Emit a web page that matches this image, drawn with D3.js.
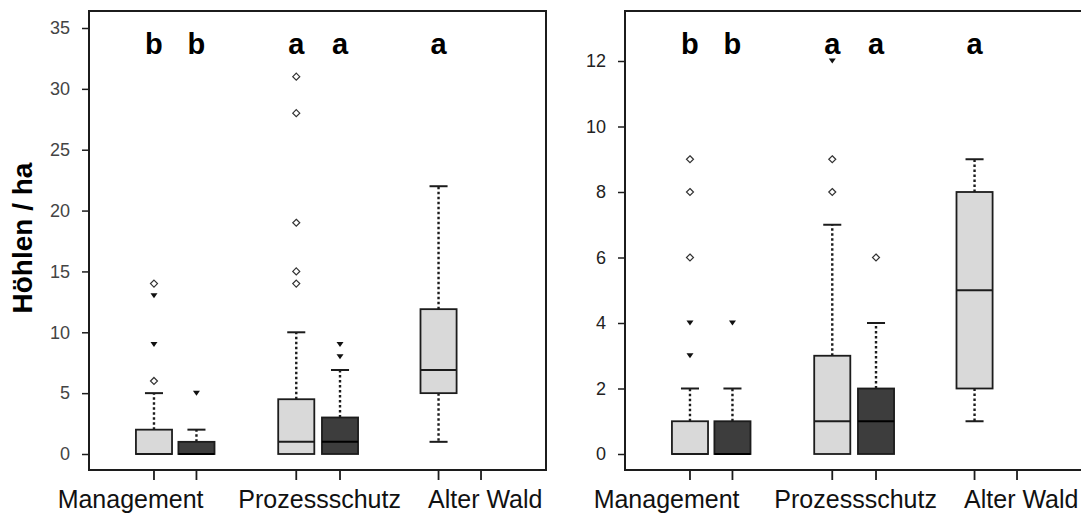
<!DOCTYPE html>
<html>
<head>
<meta charset="utf-8">
<script src="https://cdn.jsdelivr.net/npm/d3@7"></script>
<style>
body { margin: 0; background: #fff; }
text { font-family: Arial, "Liberation Sans", sans-serif; }
</style>
</head>
<body>
<div id="chart"></div>
<script>
// x slots (like R's "at"), 6 of them, the last one stays empty
const slots = [1, 2, 4.35, 5.38, 7.7, 8.7];
const categories = ["Management", "Prozessschutz", "Alter Wald"];
const categoryAt = [0.45, 4.9, 8.8];

// boxes: which slot, light (0) or dark (1) series, significance letter
const boxSlot = [0, 1, 2, 3, 4];
const boxSeries = [0, 1, 0, 1, 0];
const letters = ["b", "b", "a", "a", "a"];

// left panel
const leftTicks = [0, 5, 10, 15, 20, 25, 30, 35];
const leftLow = [0, 0, 0, 0, 1];
const leftQ1 = [0, 0, 0, 0, 5];
const leftMedian = [0, 0, 1, 1, 6.9];
const leftQ3 = [2, 1, 4.5, 3, 11.9];
const leftHigh = [5, 2, 10, 6.9, 22];
// outliers as [value, number of plots]
const leftOutliers = [
    [[14, 1], [13, 2], [9, 2], [6, 1]],
    [[5, 2]],
    [[31, 1], [28, 1], [19, 1], [15, 1], [14, 1]],
    [[9, 2], [8, 2]],
    []
];

// right panel
const rightTicks = [0, 2, 4, 6, 8, 10, 12];
const rightLow = [0, 0, 0, 0, 1];
const rightQ1 = [0, 0, 0, 0, 2];
const rightMedian = [0, 0, 1, 1, 5];
const rightQ3 = [1, 1, 3, 2, 8];
const rightHigh = [2, 2, 7, 4, 9];
const rightOutliers = [
    [[9, 1], [8, 1], [6, 1], [4, 2], [3, 2]],
    [[4, 2]],
    [[12, 2], [9, 1], [8, 1]],
    [[6, 1]],
    []
];

const fills = ["#d9d9d9", "#3d3d3d"];
const ink = "#1c1c1c";

let svg = d3.select("#chart").append("svg")
    .attr("width", 1081)
    .attr("height", 516)
    .style("background", "#fff");

let frameTop = 11, frameBottom = 470;

function drawPanel(x0, x1, yMax, yPix, ticks, low, q1, med, q3, high, outliers, tickColor) {
    let x = d3.scaleLinear().domain([-0.53, 10.23]).range([x0, x1]);
    let y = d3.scaleLinear().domain([0, yMax]).range([454, yPix]);
    let boxW = x(0.85) - x(0);
    let g = svg.append("g");

    // y axis
    let ax = g.append("g")
        .attr("transform", "translate(" + x0 + ",0)")
        .call(d3.axisLeft(y).tickValues(ticks).tickSize(7).tickPadding(12).tickSizeOuter(0));
    ax.select(".domain").remove();
    ax.selectAll(".tick line").attr("stroke", ink).attr("stroke-width", 1.5);
    ax.selectAll(".tick text")
        .attr("font-size", 18)
        .attr("fill", tickColor)
        .style("font-family", "Arial, 'Liberation Sans', sans-serif");

    // x ticks below the frame
    g.selectAll(".xtick").data(slots).enter().append("line")
        .attr("x1", d => x(d)).attr("x2", d => x(d))
        .attr("y1", frameBottom).attr("y2", frameBottom + 10)
        .attr("stroke", ink).attr("stroke-width", 1.8);

    // category labels
    g.selectAll(".cat").data(categories).enter().append("text")
        .attr("x", (d, i) => x(categoryAt[i]))
        .attr("y", 508)
        .attr("text-anchor", "middle")
        .attr("font-size", 25)
        .attr("fill", "#111")
        .text(d => d);

    // boxes
    boxSlot.forEach(function(s, i) {
        let cx = x(slots[s]);
        let dash = "2.5,2.5";
        if (high[i] > q3[i]) {
            g.append("line").attr("x1", cx).attr("x2", cx)
                .attr("y1", y(q3[i])).attr("y2", y(high[i]))
                .attr("stroke", ink).attr("stroke-width", 2.4).attr("stroke-dasharray", dash);
            g.append("line").attr("x1", cx - boxW / 4).attr("x2", cx + boxW / 4)
                .attr("y1", y(high[i])).attr("y2", y(high[i]))
                .attr("stroke", ink).attr("stroke-width", 2);
        }
        if (low[i] < q1[i]) {
            g.append("line").attr("x1", cx).attr("x2", cx)
                .attr("y1", y(q1[i])).attr("y2", y(low[i]))
                .attr("stroke", ink).attr("stroke-width", 2.4).attr("stroke-dasharray", dash);
            g.append("line").attr("x1", cx - boxW / 4).attr("x2", cx + boxW / 4)
                .attr("y1", y(low[i])).attr("y2", y(low[i]))
                .attr("stroke", ink).attr("stroke-width", 2);
        }
        g.append("rect")
            .attr("x", cx - boxW / 2)
            .attr("y", y(q3[i]))
            .attr("width", boxW)
            .attr("height", y(q1[i]) - y(q3[i]))
            .attr("fill", fills[boxSeries[i]])
            .attr("stroke", ink).attr("stroke-width", 1.8);
        g.append("line")
            .attr("x1", cx - boxW / 2).attr("x2", cx + boxW / 2)
            .attr("y1", y(med[i])).attr("y2", y(med[i]))
            .attr("stroke", boxSeries[i] ? "#000" : ink).attr("stroke-width", 2);

        // outliers
        outliers[i].forEach(function(o) {
            let oy = y(o[0]);
            if (o[1] > 1) {
                g.append("path")
                    .attr("d", "M" + (cx - 3.5) + "," + (oy - 2.5) + "L" + (cx + 3.5) + "," + (oy - 2.5) + "L" + cx + "," + (oy + 2.5) + "Z")
                    .attr("fill", "#111");
            } else {
                g.append("path")
                    .attr("d", "M" + cx + "," + (oy - 3.5) + "L" + (cx + 3.5) + "," + oy + "L" + cx + "," + (oy + 3.5) + "L" + (cx - 3.5) + "," + oy + "Z")
                    .attr("fill", "#fff").attr("stroke", "#333").attr("stroke-width", 1.2);
            }
        });

        // significance letters
        g.append("text")
            .attr("x", cx)
            .attr("y", 54)
            .attr("text-anchor", "middle")
            .attr("font-size", 29)
            .attr("font-weight", "bold")
            .attr("fill", "#000")
            .text(letters[i]);
    });

    // frame
    g.append("rect")
        .attr("x", x0).attr("y", frameTop)
        .attr("width", x1 - x0).attr("height", frameBottom - frameTop)
        .attr("fill", "none")
        .attr("stroke", ink).attr("stroke-width", 2);
}

drawPanel(89, 546, 35, 28, leftTicks, leftLow, leftQ1, leftMedian, leftQ3, leftHigh, leftOutliers, "#444");
drawPanel(625, 1082, 12, 61, rightTicks, rightLow, rightQ1, rightMedian, rightQ3, rightHigh, rightOutliers, "#222");

// y axis title
svg.append("text")
    .attr("transform", "translate(32,238) rotate(-90)")
    .attr("text-anchor", "middle")
    .attr("font-size", 28)
    .attr("font-weight", "bold")
    .attr("fill", "#000")
    .text("Höhlen / ha");
</script>
</body>
</html>
